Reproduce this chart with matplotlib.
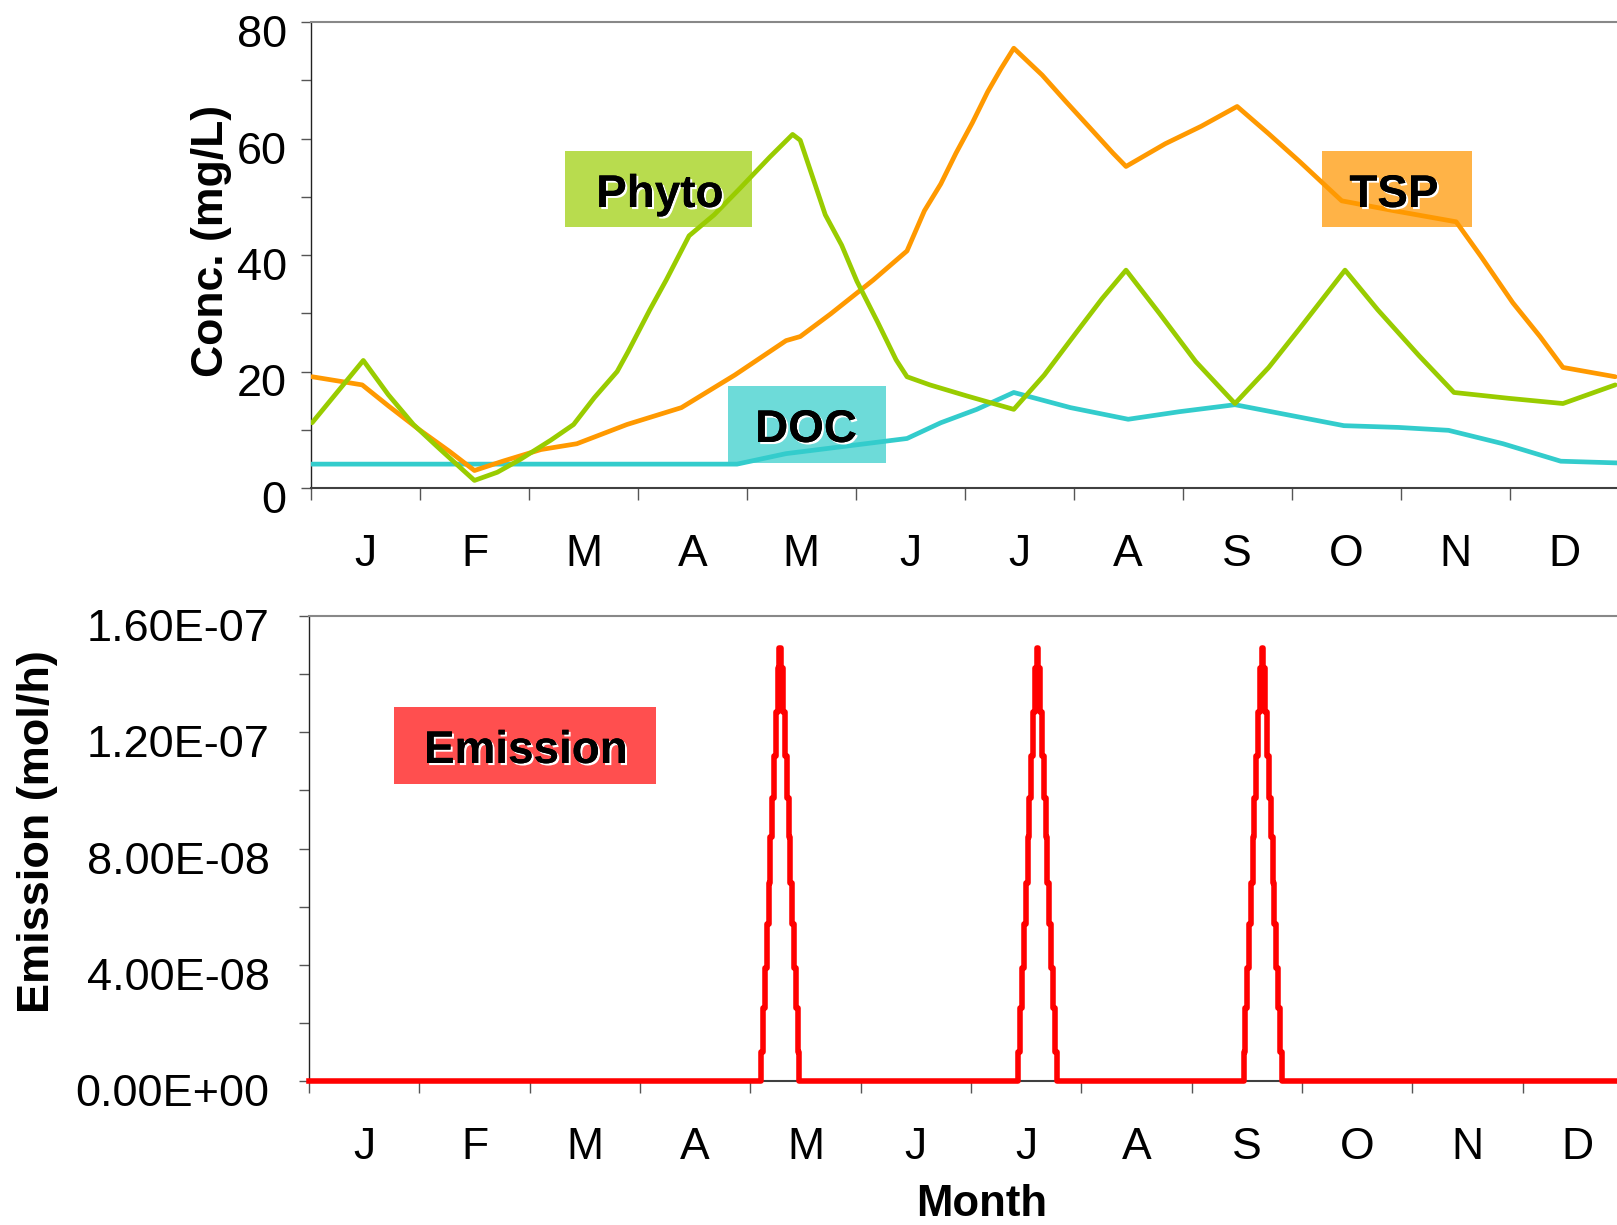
import numpy as np
import matplotlib
matplotlib.use("Agg")
import matplotlib.pyplot as plt
import matplotlib.patheffects as pe
from matplotlib.patches import Rectangle
from matplotlib.ticker import FixedLocator, FuncFormatter
from matplotlib.transforms import ScaledTranslation

plt.rcParams['font.family'] = ['Liberation Sans', 'DejaVu Sans']

# month position (0 = start of Jan, 12 = end of Dec) and concentrations (mg/L)
months = ["J", "F", "M", "A", "M", "J", "J", "A", "S", "O", "N", "D"]

phyto_t = [0.01, 0.48, 0.71, 0.94, 1.17, 1.50, 1.71, 1.92, 2.20, 2.41, 2.60, 2.81,
           2.91, 3.11, 3.26, 3.47, 3.70, 3.94, 4.21, 4.42, 4.49, 4.72, 4.87, 5.01,
           5.20, 5.37, 5.47, 5.68, 6.02, 6.45, 6.73, 7.02, 7.26, 7.48, 7.79, 8.12,
           8.48, 8.79, 9.07, 9.49, 9.79, 10.17, 10.49, 10.99, 11.49, 11.97]
phyto_v = [11.2, 21.9, 16.0, 10.9, 6.9, 1.3, 2.7, 4.9, 8.2, 10.9, 15.5, 20.0,
           23.4, 30.6, 35.7, 43.3, 46.9, 51.5, 56.8, 60.7, 59.7, 46.9, 41.7, 35.5,
           28.5, 22.0, 19.1, 17.7, 15.8, 13.5, 19.4, 26.6, 32.5, 37.4, 29.9, 21.7,
           14.5, 20.7, 27.3, 37.4, 30.6, 22.7, 16.4, 15.4, 14.5, 17.7]

tsp_t = [0.01, 0.47, 0.71, 0.98, 1.27, 1.50, 1.76, 2.11, 2.44, 2.90, 3.40, 3.89,
         4.36, 4.49, 4.77, 5.16, 5.47, 5.63, 5.78, 5.92, 6.07, 6.21, 6.33, 6.45,
         6.71, 6.93, 7.17, 7.36, 7.48, 7.84, 8.17, 8.50, 8.79, 9.07, 9.46, 9.94,
         10.51, 10.74, 11.03, 11.28, 11.49, 11.97]
tsp_v = [19.1, 17.7, 14.1, 10.2, 6.3, 3.0, 4.6, 6.6, 7.6, 10.9, 13.8, 19.4,
         25.3, 26.0, 29.9, 35.7, 40.7, 47.6, 52.2, 57.5, 62.7, 68.0, 71.9, 75.5,
         70.9, 66.3, 61.4, 57.5, 55.2, 59.1, 62.1, 65.5, 60.8, 56.1, 49.3, 47.6,
         45.7, 39.7, 31.8, 26.0, 20.7, 19.1]

doc_t = [0.0, 3.91, 4.36, 4.96, 5.47, 5.78, 6.11, 6.45, 6.97, 7.50, 7.97, 8.48,
         8.98, 9.48, 9.98, 10.44, 10.94, 11.47, 12.0]
doc_v = [4.1, 4.1, 5.9, 7.3, 8.5, 11.2, 13.5, 16.4, 13.8, 11.8, 13.1, 14.3,
         12.5, 10.7, 10.4, 9.9, 7.6, 4.6, 4.3]

# emission pulses (mol/h): start month of each pulse and the stepped levels
pulse_start = [4.10, 6.43, 8.47]
pulse_width = 0.345
pulse_levels = [1.0e-8, 2.5e-8, 3.9e-8, 5.4e-8, 6.8e-8, 8.4e-8, 9.75e-8, 1.12e-7,
                1.27e-7, 1.42e-7, 1.49e-7, 1.42e-7, 1.27e-7, 1.12e-7, 9.75e-8,
                8.4e-8, 6.8e-8, 5.4e-8, 3.9e-8, 2.5e-8, 1.0e-8]

W, H = 1617, 1225
fig = plt.figure(figsize=(W / 100, H / 100), dpi=100)


def fx(px):
    return px / W


def fy(py):
    return 1 - py / H


ax1 = fig.add_axes([fx(311), fy(488), fx(1618.5) - fx(311), fy(22) - fy(488)])
ax2 = fig.add_axes([fx(309), fy(1081), fx(1633) - fx(309), fy(616) - fy(1081)])

line_kw = dict(lw=3.4, zorder=3, solid_joinstyle="round", solid_capstyle="round")
ax1.plot(doc_t, doc_v, color="#33cccc", **line_kw)
ax1.plot(tsp_t, tsp_v, color="#ff9900", **line_kw)
ax1.plot(phyto_t, phyto_v, color="#99cc00", **line_kw)

em_t = [0.0]
em_v = [0.0]
step = pulse_width / len(pulse_levels)
for s in pulse_start:
    for i, lv in enumerate(pulse_levels):
        em_t.append(s + i * step)
        em_v.append(lv)
    em_t.append(s + len(pulse_levels) * step)
    em_v.append(0.0)
em_t.append(12.0)
em_v.append(0.0)
ax2.plot(em_t, em_v, color="#ff0000", lw=4.0, drawstyle="steps-post",
         clip_on=False, zorder=3, solid_joinstyle="round")

ax1.set_ylim(0, 80)
ax1.set_yticks(np.arange(0, 81, 20))
ax1.yaxis.set_minor_locator(FixedLocator(np.arange(10, 80, 20)))
ax2.set_ylim(0, 1.6e-7)
ax2.set_yticks(np.arange(0, 1.61e-7, 4e-8))
ax2.yaxis.set_minor_locator(FixedLocator(np.arange(2e-8, 1.6e-7, 4e-8)))
ax2.yaxis.set_major_formatter(FuncFormatter(lambda v, p: "%.2E" % v))

for ax, ypad in ((ax1, 10), (ax2, 21)):
    ax.patch.set_visible(False)
    ax.set_xlim(0, 12)
    ax.set_xticks(np.arange(0, 12, 1))
    ax.set_xticklabels([])
    ax.xaxis.set_minor_locator(FixedLocator(np.arange(0.5, 12, 1)))
    ax.set_xticklabels(months, minor=True)
    ax.tick_params(axis="x", which="major", direction="out", length=8.6,
                   width=1, color="#555555")
    ax.tick_params(axis="x", which="minor", length=0, pad=33, labelsize=32)
    ax.tick_params(axis="y", which="both", direction="out", length=7.5,
                   width=1, color="#555555", labelsize=32.5, pad=ypad)
    ax.spines["right"].set_visible(False)
    ax.spines["top"].set_color("#888888")
    ax.spines["top"].set_linewidth(1.5)
    ax.spines["bottom"].set_color("#404040")
    ax.spines["bottom"].set_linewidth(1.5)
    ax.spines["left"].set_color("#222222")
    ax.spines["left"].set_linewidth(1.0)
    off = ScaledTranslation(0, -9 / 100, fig.dpi_scale_trans)
    for t in ax.yaxis.get_major_ticks():
        t.label1.set_transform(t.label1.get_transform() + off)

fig.text(fx(211), fy(241), "Conc. (mg/L)", rotation=90, ha="center",
         va="center", fontsize=32, fontweight="bold")
fig.text(fx(37), fy(832), "Emission (mol/h)", rotation=90, ha="center",
         va="center", fontsize=32.5, fontweight="bold")
fig.text(fx(982), fy(1205), "Month", ha="center", va="center",
         fontsize=31.5, fontweight="bold")

shadow = [pe.withSimplePatchShadow(offset=(1.5, -1.5), shadow_rgbFace="white",
                                   alpha=1.0), pe.Normal()]
boxes = [
    ("Phyto", 565, 151, 752, 227, "#b8dc4e", 660, 207),
    ("TSP", 1322, 151, 1472, 227, "#ffb347", 1394, 207),
    ("DOC", 728, 386, 886, 463, "#6ddbd9", 806, 442),
    ("Emission", 394, 707, 656, 784, "#ff4f4f", 526, 763),
]
for name, x0, y0, x1, y1, col, tx, ty in boxes:
    fig.add_artist(Rectangle((fx(x0), fy(y1)), fx(x1) - fx(x0), fy(y0) - fy(y1),
                             transform=fig.transFigure, facecolor=col,
                             edgecolor="none", zorder=-1))
    fig.text(fx(tx), fy(ty), name, ha="center", va="baseline", fontsize=33,
             fontweight="bold", color="black", path_effects=shadow, zorder=5)

fig.savefig("out.png", dpi=100, facecolor="white")
